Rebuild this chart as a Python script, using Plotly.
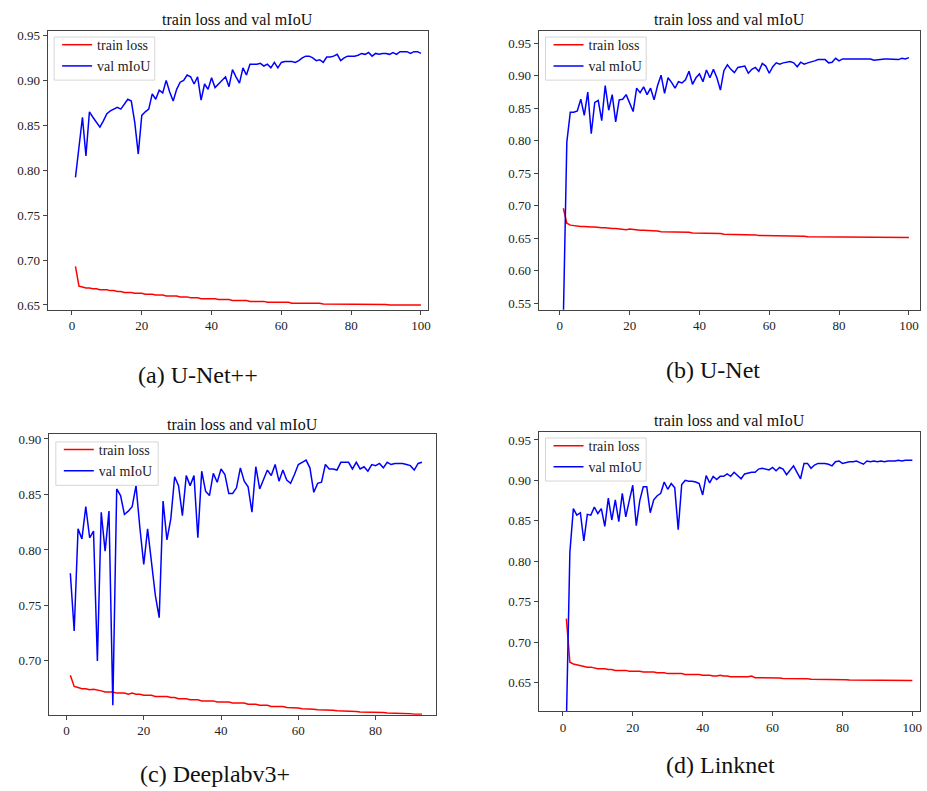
import plotly.graph_objects as go

W, H = 927, 791
FONT = "Liberation Serif, Times New Roman, serif"

epochs_100 = list(range(1, 101))
epochs_92 = list(range(1, 93))

# (a) U-Net++
a_val = [0.792, 0.826, 0.859, 0.816, 0.865, 0.859, 0.854, 0.848, 0.855, 0.863,
         0.866, 0.868, 0.870, 0.868, 0.874, 0.879, 0.877, 0.853, 0.818, 0.861,
         0.865, 0.868, 0.885, 0.879, 0.889, 0.886, 0.900, 0.887, 0.877, 0.890,
         0.898, 0.900, 0.906, 0.904, 0.896, 0.904, 0.878, 0.896, 0.890, 0.903,
         0.892, 0.896, 0.900, 0.904, 0.893, 0.912, 0.904, 0.897, 0.914, 0.906,
         0.918, 0.918, 0.918, 0.919, 0.916, 0.918, 0.914, 0.920, 0.914, 0.920,
         0.921, 0.921, 0.921, 0.920, 0.922, 0.925, 0.927, 0.927, 0.925, 0.922,
         0.923, 0.920, 0.926, 0.926, 0.927, 0.929, 0.922, 0.925, 0.927, 0.927,
         0.927, 0.928, 0.930, 0.929, 0.931, 0.927, 0.930, 0.929, 0.930, 0.930,
         0.929, 0.931, 0.929, 0.932, 0.932, 0.932, 0.930, 0.932, 0.932, 0.930]
a_loss = [0.693, 0.671, 0.670, 0.669, 0.669, 0.668, 0.668, 0.667, 0.667, 0.667,
          0.666, 0.666, 0.665, 0.665, 0.664, 0.664, 0.664, 0.663, 0.663, 0.663,
          0.662, 0.662, 0.662, 0.661, 0.661, 0.661, 0.660, 0.660, 0.660, 0.660,
          0.659, 0.659, 0.659, 0.658, 0.658, 0.658, 0.657, 0.657, 0.657, 0.657,
          0.657, 0.656, 0.656, 0.656, 0.656, 0.655, 0.655, 0.655, 0.655, 0.655,
          0.654, 0.654, 0.654, 0.654, 0.654, 0.653, 0.653, 0.653, 0.653, 0.653,
          0.653, 0.653, 0.652, 0.652, 0.652, 0.652, 0.652, 0.652, 0.652, 0.652,
          0.652, 0.651, 0.651, 0.651, 0.651, 0.651, 0.651, 0.651, 0.651, 0.651,
          0.651, 0.651, 0.6505, 0.6505, 0.6505, 0.6505, 0.6505, 0.6505, 0.6505, 0.6505,
          0.650, 0.650, 0.650, 0.650, 0.650, 0.650, 0.650, 0.650, 0.650, 0.650]

# (b) U-Net
b_val = [0.525, 0.798, 0.844, 0.844, 0.846, 0.864, 0.839, 0.875, 0.811, 0.859,
         0.862, 0.831, 0.885, 0.847, 0.871, 0.829, 0.863, 0.864, 0.871, 0.859,
         0.845, 0.881, 0.874, 0.883, 0.871, 0.881, 0.863, 0.885, 0.901, 0.873,
         0.897, 0.890, 0.881, 0.891, 0.889, 0.894, 0.907, 0.887, 0.897, 0.903,
         0.891, 0.909, 0.897, 0.910, 0.897, 0.878, 0.908, 0.917, 0.910, 0.905,
         0.913, 0.914, 0.915, 0.904, 0.910, 0.913, 0.907, 0.919, 0.915, 0.904,
         0.914, 0.920, 0.918, 0.920, 0.921, 0.922, 0.920, 0.914, 0.921, 0.918,
         0.920, 0.921, 0.923, 0.925, 0.925, 0.925, 0.920, 0.921, 0.927, 0.923,
         0.926, 0.926, 0.926, 0.926, 0.926, 0.926, 0.927, 0.927, 0.926, 0.924,
         0.925, 0.926, 0.926, 0.926, 0.926, 0.926, 0.925, 0.927, 0.926, 0.928]
b_loss = [0.696, 0.673, 0.670, 0.669, 0.669, 0.668, 0.668, 0.667, 0.667, 0.667,
          0.666, 0.666, 0.666, 0.665, 0.665, 0.665, 0.664, 0.664, 0.663, 0.664,
          0.663, 0.663, 0.662, 0.662, 0.662, 0.662, 0.661, 0.661, 0.660, 0.660,
          0.660, 0.660, 0.660, 0.659, 0.659, 0.659, 0.659, 0.658, 0.658, 0.658,
          0.658, 0.657, 0.657, 0.657, 0.657, 0.657, 0.656, 0.656, 0.656, 0.656,
          0.655, 0.655, 0.655, 0.655, 0.655, 0.655, 0.654, 0.654, 0.654, 0.654,
          0.654, 0.654, 0.653, 0.653, 0.653, 0.653, 0.653, 0.653, 0.653, 0.653,
          0.652, 0.652, 0.652, 0.652, 0.652, 0.652, 0.652, 0.652, 0.652, 0.652,
          0.6515, 0.6515, 0.6515, 0.6515, 0.6515, 0.6515, 0.6515, 0.6515, 0.6515, 0.6515,
          0.651, 0.651, 0.651, 0.651, 0.651, 0.651, 0.651, 0.651, 0.651, 0.651]

# (c) Deeplabv3+
c_val = [0.779, 0.727, 0.819, 0.810, 0.839, 0.811, 0.817, 0.700, 0.834, 0.799,
         0.835, 0.660, 0.855, 0.849, 0.832, 0.835, 0.839, 0.858, 0.820, 0.787,
         0.819, 0.789, 0.759, 0.739, 0.844, 0.809, 0.828, 0.866, 0.858, 0.831,
         0.867, 0.858, 0.867, 0.811, 0.871, 0.853, 0.849, 0.869, 0.861, 0.873,
         0.868, 0.851, 0.851, 0.856, 0.874, 0.862, 0.857, 0.834, 0.875, 0.855,
         0.864, 0.872, 0.867, 0.877, 0.862, 0.872, 0.863, 0.860, 0.868, 0.877,
         0.879, 0.881, 0.874, 0.852, 0.860, 0.861, 0.877, 0.873, 0.873, 0.872,
         0.879, 0.879, 0.879, 0.873, 0.879, 0.873, 0.875, 0.871, 0.877, 0.876,
         0.878, 0.874, 0.879, 0.877, 0.878, 0.878, 0.878, 0.877, 0.876, 0.872,
         0.878, 0.879]
c_loss = [0.687, 0.677, 0.676, 0.675, 0.675, 0.674, 0.6745, 0.674, 0.673, 0.672,
          0.672, 0.672, 0.671, 0.671, 0.671, 0.670, 0.671, 0.670, 0.670, 0.669,
          0.669, 0.669, 0.668, 0.668, 0.668, 0.668, 0.667, 0.667, 0.666, 0.666,
          0.666, 0.665, 0.665, 0.665, 0.664, 0.664, 0.664, 0.664, 0.663, 0.663,
          0.663, 0.663, 0.662, 0.662, 0.662, 0.662, 0.661, 0.661, 0.661, 0.660,
          0.660, 0.660, 0.659, 0.659, 0.659, 0.659, 0.658, 0.658, 0.658, 0.6575,
          0.657, 0.657, 0.6565, 0.6565, 0.656, 0.656, 0.656, 0.6555, 0.6555, 0.655,
          0.655, 0.655, 0.6545, 0.6545, 0.6545, 0.654, 0.654, 0.654, 0.654, 0.6535,
          0.6535, 0.6535, 0.653, 0.653, 0.653, 0.653, 0.6525, 0.6525, 0.6525, 0.652,
          0.652, 0.652]

# (d) Linknet
d_val = [0.600, 0.811, 0.865, 0.857, 0.860, 0.825, 0.858, 0.857, 0.867, 0.859,
         0.865, 0.843, 0.878, 0.851, 0.876, 0.849, 0.884, 0.855, 0.875, 0.894,
         0.844, 0.875, 0.892, 0.892, 0.860, 0.876, 0.881, 0.884, 0.898, 0.889,
         0.896, 0.891, 0.839, 0.895, 0.900, 0.899, 0.899, 0.898, 0.896, 0.882,
         0.906, 0.897, 0.905, 0.901, 0.905, 0.905, 0.908, 0.905, 0.910, 0.906,
         0.902, 0.908, 0.909, 0.910, 0.910, 0.914, 0.915, 0.914, 0.913, 0.916,
         0.912, 0.916, 0.914, 0.907, 0.913, 0.918, 0.910, 0.902, 0.921, 0.921,
         0.915, 0.919, 0.921, 0.921, 0.921, 0.920, 0.918, 0.923, 0.924, 0.921,
         0.922, 0.923, 0.923, 0.924, 0.922, 0.920, 0.924, 0.923, 0.924, 0.923,
         0.924, 0.923, 0.924, 0.924, 0.924, 0.925, 0.924, 0.925, 0.925, 0.925]
d_loss = [0.729, 0.675, 0.673, 0.672, 0.671, 0.670, 0.669, 0.669, 0.668, 0.667,
          0.667, 0.667, 0.666, 0.666, 0.665, 0.665, 0.665, 0.665, 0.664, 0.664,
          0.664, 0.664, 0.663, 0.663, 0.663, 0.663, 0.662, 0.662, 0.662, 0.661,
          0.661, 0.661, 0.661, 0.661, 0.660, 0.660, 0.660, 0.660, 0.660, 0.659,
          0.659, 0.659, 0.658, 0.658, 0.659, 0.658, 0.658, 0.657, 0.657, 0.657,
          0.657, 0.657, 0.657, 0.658, 0.656, 0.656, 0.656, 0.656, 0.656, 0.6555,
          0.6555, 0.6555, 0.655, 0.655, 0.655, 0.655, 0.655, 0.6545, 0.6545, 0.6545,
          0.654, 0.654, 0.654, 0.654, 0.654, 0.654, 0.6535, 0.6535, 0.6535, 0.6535,
          0.6535, 0.653, 0.653, 0.653, 0.653, 0.653, 0.653, 0.653, 0.653, 0.653,
          0.6525, 0.6525, 0.6525, 0.6525, 0.6525, 0.6525, 0.6525, 0.6525, 0.6525, 0.6525]

title_text = "train loss and val mIoU"
captions = ["(a) U-Net++", "(b) U-Net", "(c) Deeplabv3+", "(d) Linknet"]
x_ticks_100 = [0, 20, 40, 60, 80, 100]
x_ticks_92 = [0, 20, 40, 60, 80]

# panel geometry in pixels: left, right, top, bottom ; legend box: l, t, r, b
panels = [
    dict(box=(47.7, 429.3, 28, 309), xr=[-7.0, 102.0], yr=[0.6448, 0.9552],
         x=epochs_100, val=a_val, loss=a_loss, xt=x_ticks_100,
         legbox=(54.3, 34.3, 155.3, 77.7), title_y=16.7, cap=(199, 375)),
    dict(box=(540.3, 922.7, 28, 309), xr=[-6.1, 103.1], yr=[0.5398, 0.9694],
         x=epochs_100, val=b_val, loss=b_loss, xt=x_ticks_100,
         legbox=(547.3, 34.3, 648.3, 77.7), title_y=16.7, cap=(715.5, 370)),
    dict(box=(49, 437.7, 434.3, 717.3), xr=[-4.56, 95.7], yr=[0.6514, 0.9045],
         x=epochs_92, val=c_val, loss=c_loss, xt=x_ticks_92,
         legbox=(56, 442.3, 158.7, 486), title_y=424.3, cap=(215.5, 777)),
    dict(box=(540.3, 922.7, 432, 713.7), xr=[-6.96, 102.1], yr=[0.6144, 0.9602],
         x=epochs_100, val=d_val, loss=d_loss, xt=x_ticks_100,
         legbox=(547.3, 438.3, 648.3, 481.7), title_y=420.7, cap=(723, 768)),
]

fig = go.Figure()
layout = dict(width=W, height=H, margin=dict(l=0, r=0, t=0, b=0),
              paper_bgcolor="white", plot_bgcolor="white",
              font=dict(family=FONT, color="#222"), annotations=[], shapes=[])

for i, p in enumerate(panels):
    n = "" if i == 0 else str(i + 1)
    leg = "legend" + n
    xa, ya = "x" + n, "y" + n
    fig.add_trace(go.Scatter(x=p["x"], y=p["loss"], mode="lines", name="train loss",
                             line=dict(color="#ff0000", width=1.5),
                             xaxis=xa, yaxis=ya, legend=leg))
    fig.add_trace(go.Scatter(x=p["x"], y=p["val"], mode="lines", name="val mIoU",
                             line=dict(color="#0000ff", width=1.5),
                             xaxis=xa, yaxis=ya, legend=leg))
    l, r, t, b = p["box"]
    axstyle = dict(showline=True, mirror=True, linecolor="#444", linewidth=1,
                   ticks="outside", ticklen=4, tickcolor="#444", showgrid=False,
                   zeroline=False, tickfont=dict(family=FONT, size=13, color="#222"))
    layout["xaxis" + n] = dict(domain=[l / W, r / W], range=p["xr"], anchor=ya,
                               tickvals=p["xt"], **axstyle)
    layout["yaxis" + n] = dict(domain=[1 - b / H, 1 - t / H], range=p["yr"], anchor=xa,
                               dtick=0.05, tick0=0.5, tickformat=".2f", **axstyle)
    bl, bt, br, bb = p["legbox"]
    # legend frame (matplotlib-like box with translucent white fill)
    layout["shapes"].append(dict(type="rect", xref="paper", yref="paper",
                                 x0=bl / W, x1=br / W, y0=1 - bb / H, y1=1 - bt / H,
                                 line=dict(color="#d6d6d6", width=1),
                                 fillcolor="rgba(255,255,255,0.8)", layer="above"))
    layout[leg] = dict(x=(bl + 3) / W, y=1 - (bt - 8) / H, xanchor="left", yanchor="top",
                       xref="paper", yref="paper",
                       bgcolor="rgba(0,0,0,0)", borderwidth=0,
                       font=dict(family=FONT, size=14, color="#222"))
    layout["annotations"].append(dict(text=title_text, x=(l + r) / 2 / W,
                                      y=1 - p["title_y"] / H, xref="paper", yref="paper",
                                      xanchor="center", yanchor="middle", showarrow=False,
                                      font=dict(family=FONT, size=16, color="#111")))
    cx, cy = p["cap"]
    layout["annotations"].append(dict(text=captions[i], x=cx / W, y=1 - cy / H,
                                      xref="paper", yref="paper", xanchor="center",
                                      yanchor="middle", showarrow=False,
                                      font=dict(family=FONT, size=24, color="#111")))

fig.update_layout(**layout)
fig.write_html("out.html", config={"displayModeBar": False},
               post_script="document.body.style.margin='0';document.body.style.overflow='hidden';")
